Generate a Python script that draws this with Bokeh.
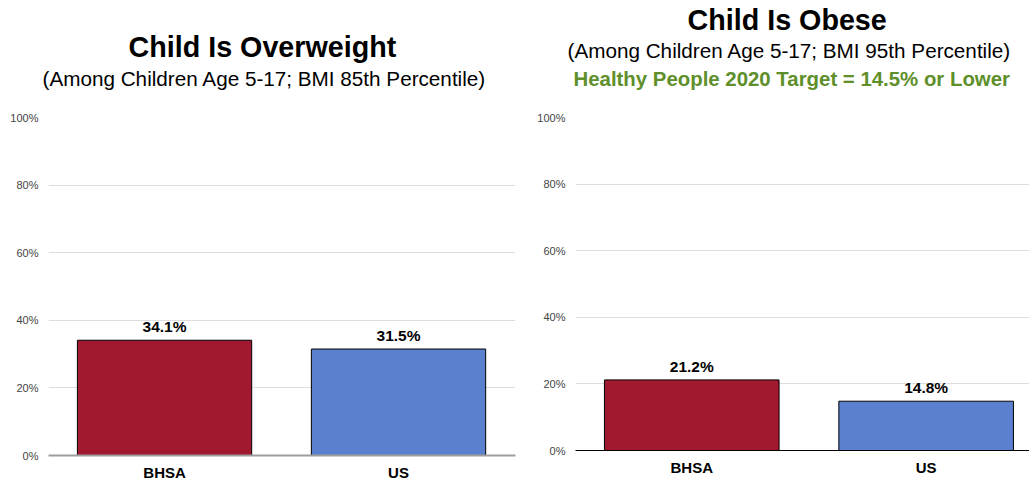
from bokeh.plotting import figure
from bokeh.models import (Range1d, FixedTicker, PrintfTickFormatter, ColumnDataSource,
                          LabelSet, Title)
from bokeh.core.properties import value
from bokeh.layouts import row
from bokeh.embed import file_html
from bokeh.resources import INLINE

categories = ["BHSA", "US"]
overweight = [34.1, 31.5]
obese = [21.2, 14.8]
bar_colors = ["#A0192F", "#5A80CF"]
y_ticks = [0, 20, 40, 60, 80, 100]

FONT = "Liberation Sans"


def make_chart(values, titles, x_end, frame_w, frame_h, border_left, border_right,
               axis_color, axis_width):
    xs = [i + 0.5 for i in range(len(categories))]
    src = ColumnDataSource(dict(x=xs, top=values, color=bar_colors,
                                label=[f"{v}%" for v in values]))
    p = figure(output_backend="svg", toolbar_location=None,
               frame_width=frame_w, frame_height=frame_h,
               x_range=Range1d(0.004, x_end), y_range=Range1d(0, 100),
               min_border_left=border_left, min_border_right=border_right,
               min_border_top=114, min_border_bottom=0)
    p.outline_line_color = None
    p.background_fill_color = "white"
    p.ygrid.grid_line_color = "#DDDDDD"
    p.ygrid.ticker = FixedTicker(ticks=y_ticks)
    p.xgrid.grid_line_color = None
    p.vbar(x="x", top="top", width=0.745, bottom=0, fill_color="color",
           line_color="black", line_width=1, source=src)
    p.add_layout(LabelSet(x="x", y="top", text="label", source=src,
                          text_align="center", text_baseline="bottom", y_offset=5,
                          text_font=value(FONT), text_font_style="bold",
                          text_font_size="15.5px", text_color="black"))
    # axes
    p.yaxis.ticker = FixedTicker(ticks=y_ticks)
    p.yaxis.formatter = PrintfTickFormatter(format="%d%%")
    p.yaxis.axis_line_color = None
    p.yaxis.major_tick_line_color = None
    p.yaxis.minor_tick_line_color = None
    p.yaxis.major_tick_out = 0
    p.yaxis.major_label_text_font = FONT
    p.yaxis.major_label_text_font_size = "11px"
    p.yaxis.major_label_text_color = "#444444"
    p.yaxis.major_label_standoff = 10
    p.xaxis.ticker = FixedTicker(ticks=xs)
    p.xaxis.major_label_overrides = {x: c for x, c in zip(xs, categories)}
    p.xaxis.axis_line_color = axis_color
    p.xaxis.axis_line_width = axis_width
    p.xaxis.major_tick_line_color = None
    p.xaxis.minor_tick_line_color = None
    p.xaxis.major_tick_out = 0
    p.xaxis.major_label_text_font = FONT
    p.xaxis.major_label_text_font_style = "bold"
    p.xaxis.major_label_text_font_size = "15px"
    p.xaxis.major_label_text_color = "black"
    p.xaxis.major_label_standoff = 8
    # titles, added from the plot outward
    for text, size, style, color, offset, standoff in reversed(titles):
        p.add_layout(Title(text=text, align="left", text_font=FONT,
                           text_font_size=size, text_font_style=style,
                           text_color=color, offset=offset, standoff=standoff), "above")
    return p


left = make_chart(
    overweight,
    [("Child Is Overweight", "28.7px", "bold", "black", 80, 3),
     ("(Among Children Age 5-17; BMI 85th Percentile)", "20.7px", "normal", "black", -6, 0),
     (" ", "1px", "normal", "black", 0, 25)],
    2.0, 467, 338, 48, 3, "#9E9E9E", 2)

right = make_chart(
    obese,
    [("Child Is Obese", "28.7px", "bold", "black", 112, 2),
     ("(Among Children Age 5-17; BMI 95th Percentile)", "20.7px", "normal", "black", -8, 1),
     ("Healthy People 2020 Target = 14.5% or Lower", "20.4px", "bold", "#5E8F2A", -2, 6),
     (" ", "1px", "normal", "black", 0, 22)],
    1.941, 454, 333, 57, 0, "black", 1)

layout = row(left, right, spacing=0)
open("out.html", "w").write(file_html(layout, INLINE))
